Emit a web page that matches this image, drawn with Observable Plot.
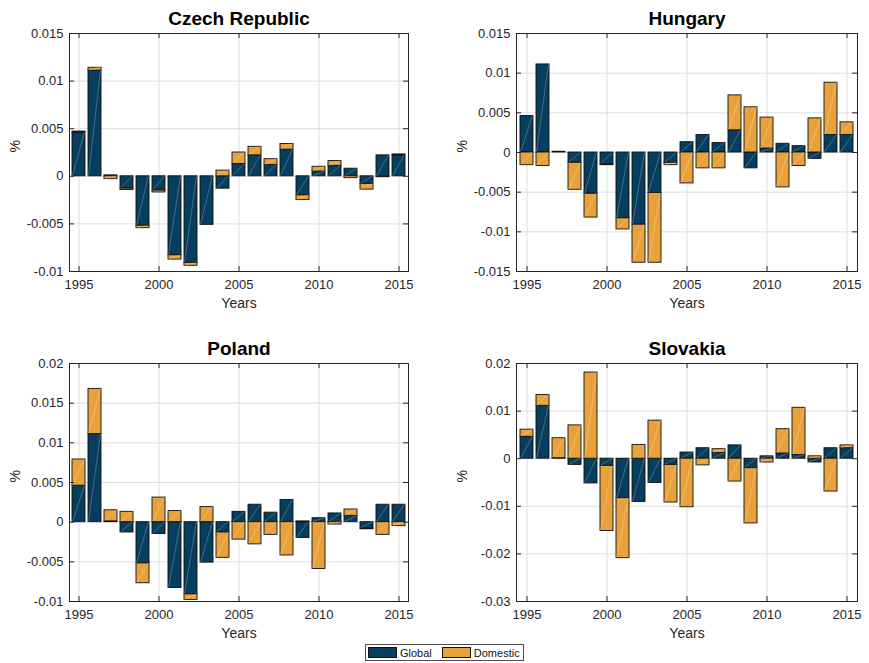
<!DOCTYPE html>
<html>
<head>
<meta charset="utf-8">
<script src="https://cdn.jsdelivr.net/npm/d3@7"></script>
<script src="https://cdn.jsdelivr.net/npm/@observablehq/plot@0.6"></script>
<style>
  html, body { margin: 0; padding: 0; background: #fff; }
  #root { position: relative; width: 869px; height: 663px; overflow: hidden; font-family: "Liberation Sans", Arial, sans-serif; }
  .panel { position: absolute; }
  #legend { position: absolute; left: 365px; top: 644px; height: 17px; border: 1px solid #4d4d4d; background: #fff;
            display: flex; align-items: center; font-size: 11px; color: #111; padding: 0 3px 0 2px; box-sizing: border-box; }
  #legend .sw { width: 29px; height: 11px; border: 1px solid #111; box-sizing: border-box; margin-right: 3px; }
  #legend .lab { margin-right: 10px; }
  #legend .lab:last-child { margin-right: 0; }
</style>
</head>
<body>
<div id="root"></div>
<script>
// ---- data ----
const years = [1995, 1996, 1997, 1998, 1999, 2000, 2001, 2002, 2003, 2004, 2005,
               2006, 2007, 2008, 2009, 2010, 2011, 2012, 2013, 2014, 2015];
const seriesNames = ["Global", "Domestic"];
const seriesColors = ["#073d5e", "#e8a23c"];

const globalShock = [0.0046, 0.0111, 0.0001, -0.0013, -0.0052, -0.0015, -0.0083, -0.0091, -0.0051, -0.0013, 0.0013,
                     0.0022, 0.0012, 0.0028, -0.0020, 0.0005, 0.0011, 0.0008, -0.0008, 0.0022, 0.0022];

const czechDomestic = [0.0001, 0.0003, -0.0003, -0.00015, -0.00025, -0.0002, -0.00045, -0.0003, 0.0000, 0.0006, 0.0012,
                       0.0009, 0.0006, 0.0006, -0.0005, 0.0005, 0.0005, -0.0002, -0.0006, -0.0001, 0.0001];
const hungaryDomestic = [-0.0016, -0.0017, 0.0000, -0.0034, -0.0030, -0.0001, -0.0014, -0.0048, -0.0088, -0.0003, -0.0039,
                         -0.0020, -0.0020, 0.0044, 0.0057, 0.0039, -0.0044, -0.0017, 0.0043, 0.0066, 0.0016];
const polandDomestic = [0.0033, 0.0057, 0.0014, 0.0013, -0.0025, 0.0031, 0.0014, -0.0007, 0.0019, -0.0032, -0.0022,
                        -0.0028, -0.0016, -0.0042, 0.0001, -0.0059, -0.0003, 0.0008, -0.0001, -0.0016, -0.0005];
const slovakiaDomestic = [0.0015, 0.0023, 0.0042, 0.0070, 0.0181, -0.0137, -0.0126, 0.0029, 0.0080, -0.0079, -0.0102,
                          -0.0014, 0.0008, -0.0048, -0.0116, -0.0008, 0.0051, 0.0099, 0.0005, -0.0069, 0.0006];

const xTicks = [1995, 2000, 2005, 2010, 2015];
const czechTicks = [-0.01, -0.005, 0, 0.005, 0.01, 0.015];
const hungaryTicks = [-0.015, -0.01, -0.005, 0, 0.005, 0.01, 0.015];
const polandTicks = [-0.01, -0.005, 0, 0.005, 0.01, 0.015, 0.02];
const slovakiaTicks = [-0.03, -0.02, -0.01, 0, 0.01, 0.02];

const titles = ["Czech Republic", "Hungary", "Poland", "Slovakia"];
const xLabel = "Years";
const yLabel = "%";

// ---- drawing ----
const fmt = d => String(d);

// faint diagonal line inside each stacked segment (bottom-left to top-right), drawn through Plot's scales
function diagonals(rows) {
  return (index, scales) => {
    const g = d3.create("svg:g").attr("stroke", "#ffffff").attr("stroke-opacity", 0.35).attr("stroke-width", 0.7);
    const pos = new Map(), neg = new Map();
    const bw = scales.x.bandwidth ? scales.x.bandwidth() : 0;
    for (const r of rows) {
      const base = r.value >= 0 ? (pos.get(r.year) || 0) : (neg.get(r.year) || 0);
      const end = base + r.value;
      if (r.value >= 0) pos.set(r.year, end); else neg.set(r.year, end);
      const lo = Math.min(base, end), hi = Math.max(base, end);
      const x0 = scales.x(r.year);
      const yLo = scales.y(lo), yHi = scales.y(hi);
      if (Math.abs(yLo - yHi) < 2) continue;
      g.append("line").attr("x1", x0 + 0.5).attr("y1", yLo).attr("x2", x0 + bw - 0.5).attr("y2", yHi);
    }
    return g.node();
  };
}

function panel({title, domestic, ticks, left, top, width, height, mLeft, mRight, mTop, mBottom}) {
  const rows = [];
  years.forEach((yr, i) => {
    rows.push({year: yr, series: "Global", value: globalShock[i]});
    rows.push({year: yr, series: "Domestic", value: domestic[i]});
  });
  const fw = width - mLeft - mRight;
  const fh = height - mTop - mBottom;
  const tk = 5;
  const dark = "#262626";
  const chart = Plot.plot({
    width, height,
    marginLeft: mLeft, marginRight: mRight, marginTop: mTop, marginBottom: mBottom,
    style: {fontFamily: "'Liberation Sans', Arial, sans-serif", fontSize: "13px", color: dark, background: "transparent", overflow: "visible"},
    x: {type: "band", domain: years, paddingInner: 0.2, paddingOuter: 0.1, axis: null},
    y: {domain: [ticks[0], ticks[ticks.length - 1]], axis: null},
    color: {domain: seriesNames, range: seriesColors},
    marks: [
      Plot.gridX(xTicks, {stroke: "#dedede", strokeOpacity: 1}),
      Plot.gridY(ticks, {stroke: "#dedede", strokeOpacity: 1}),
      Plot.barY(rows, {x: "year", y: "value", fill: "series", stroke: "#111", strokeWidth: 0.9}),
      diagonals(rows),
      Plot.axisX(xTicks, {tickSize: 0, tickPadding: 8, tickFormat: fmt, label: null, fill: dark}),
      Plot.axisY(ticks, {tickSize: 0, tickPadding: 6, tickFormat: fmt, label: null, fill: dark}),
      Plot.gridX(xTicks, {stroke: dark, strokeOpacity: 1, insetTop: fh - tk}),
      Plot.gridX(xTicks, {stroke: dark, strokeOpacity: 1, insetBottom: fh - tk}),
      Plot.gridY(ticks, {stroke: dark, strokeOpacity: 1, insetRight: fw - tk}),
      Plot.gridY(ticks, {stroke: dark, strokeOpacity: 1, insetLeft: fw - tk}),
      Plot.frame({stroke: dark, strokeWidth: 1}),
      Plot.text([xLabel], {frameAnchor: "bottom", lineAnchor: "middle", dy: 32, fontSize: 14, fill: dark}),
      Plot.text([yLabel], {frameAnchor: "left", dx: -54, rotate: -90, fontSize: 14, fill: dark}),
      Plot.text([title], {frameAnchor: "top", lineAnchor: "middle", dy: -15, fontSize: 19, fontWeight: "bold", fill: "#000"})
    ]
  });
  const div = document.createElement("div");
  div.className = "panel";
  div.style.left = left + "px";
  div.style.top = top + "px";
  div.appendChild(chart);
  document.getElementById("root").appendChild(div);
}

panel({title: titles[0], domestic: czechDomestic, ticks: czechTicks,
       left: 0, top: 0, width: 430, height: 318, mLeft: 69, mRight: 22, mTop: 33, mBottom: 47});
panel({title: titles[1], domestic: hungaryDomestic, ticks: hungaryTicks,
       left: 434, top: 0, width: 435, height: 318, mLeft: 82, mRight: 12, mTop: 33, mBottom: 47});
panel({title: titles[2], domestic: polandDomestic, ticks: polandTicks,
       left: 0, top: 330, width: 430, height: 313, mLeft: 69, mRight: 22, mTop: 33, mBottom: 42});
panel({title: titles[3], domestic: slovakiaDomestic, ticks: slovakiaTicks,
       left: 434, top: 330, width: 435, height: 313, mLeft: 82, mRight: 12, mTop: 33, mBottom: 42});

// legend
const legend = document.createElement("div");
legend.id = "legend";
seriesNames.forEach((name, i) => {
  const sw = document.createElement("span");
  sw.className = "sw";
  sw.style.background = seriesColors[i];
  const lab = document.createElement("span");
  lab.className = "lab";
  lab.textContent = name;
  legend.appendChild(sw);
  legend.appendChild(lab);
});
document.getElementById("root").appendChild(legend);
</script>
</body>
</html>
